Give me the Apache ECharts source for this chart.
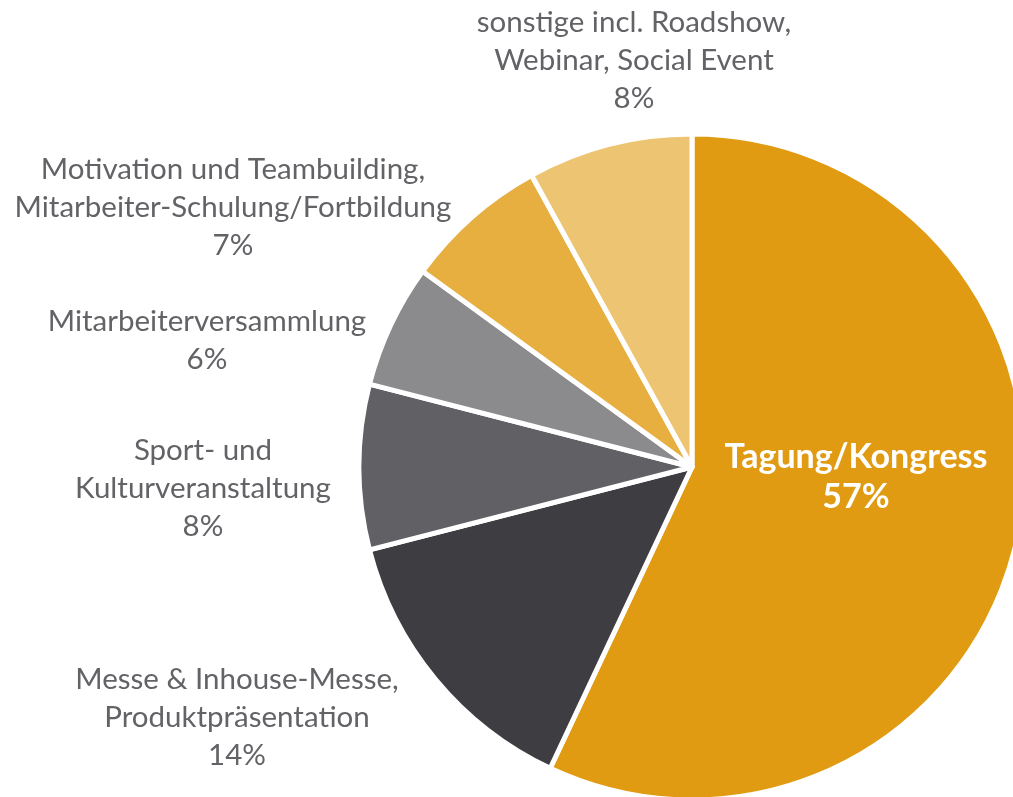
<!DOCTYPE html>
<html><head><meta charset="utf-8">
<script src="https://cdn.jsdelivr.net/npm/echarts@6/dist/echarts.min.js"></script>
<style>html,body{margin:0;padding:0;background:#fff}#c{width:1013px;height:797px}</style>
</head><body><div id="c"></div>
<script>
const categories = [
  "Tagung/Kongress",
  "Messe & Inhouse-Messe,\nProduktpräsentation",
  "Sport- und\nKulturveranstaltung",
  "Mitarbeiterversammlung",
  "Motivation und Teambuilding,\nMitarbeiter-Schulung/Fortbildung",
  "sonstige incl. Roadshow,\nWebinar, Social Event"
];
const values = [57, 14, 8, 6, 7, 8];
const colors = ["#E09B12", "#3E3D42", "#616065", "#8B8A8C", "#E6AF40", "#EDC472"];
const labelPos = [[856, 477], [237, 717], [203, 488], [207, 340], [233, 207], [634, 60]];

const chart = echarts.init(document.getElementById('c'), null, {renderer: 'canvas'});
chart.setOption({
  animation: false,
  series: [{
    type: 'pie',
    center: [692, 467],
    radius: 333,
    startAngle: 90,
    clockwise: true,
    avoidLabelOverlap: false,
    data: categories.map((n, i) => ({
      name: n, value: values[i],
      itemStyle: {color: colors[i]},
      label: i === 0 ? {color: '#fff', fontWeight: 'bold', fontSize: 34, lineHeight: 40} : {}
    })),
    itemStyle: {borderColor: '#fff', borderWidth: 5},
    label: {
      show: true,
      position: 'outside',
      formatter: p => p.name + '\n' + p.value + '%',
      fontFamily: 'Lato',
      fontSize: 29.5,
      lineHeight: 38,
      color: '#636266',
      align: 'center'
    },
    labelLine: {show: false},
    labelLayout: function (params) {
      const p = labelPos[params.dataIndex];
      return {x: p[0], y: p[1], align: 'center', verticalAlign: 'middle'};
    },
    emphasis: {disabled: true}
  }]
});
</script></body></html>
